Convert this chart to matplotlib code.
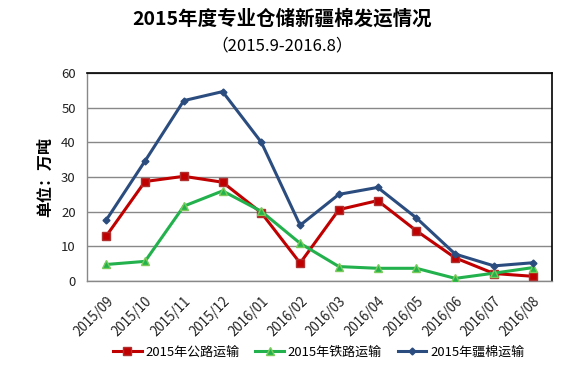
import matplotlib
matplotlib.use("Agg")
import matplotlib.pyplot as plt

plt.rcParams['font.family'] = ['Noto Sans CJK SC', 'DejaVu Sans']

months = ['2015/09', '2015/10', '2015/11', '2015/12', '2016/01', '2016/02',
          '2016/03', '2016/04', '2016/05', '2016/06', '2016/07', '2016/08']
road = [13.0, 28.7, 30.2, 28.5, 19.7, 5.2, 20.6, 23.2, 14.5, 6.7, 2.2, 1.4]
rail = [4.8, 5.7, 21.6, 26.0, 20.1, 10.9, 4.2, 3.7, 3.7, 0.8, 2.3, 3.9]
total = [17.6, 34.6, 52.0, 54.6, 40.0, 16.1, 25.0, 27.0, 18.2, 7.8, 4.4, 5.3]
series_names = ['2015年公路运输', '2015年铁路运输', '2015年疆棉运输']

fig = plt.figure(figsize=(5.64, 3.68), dpi=100)
ax = fig.add_axes([0.154, 0.236, 0.825, 0.566])

x = list(range(len(months)))
ax.plot(x, road, color='#C00000', lw=2.2, marker='s', ms=6,
        mfc='#C00000', mec='#B03030', label=series_names[0], zorder=3)
ax.plot(x, rail, color='#22B14C', lw=2.2, marker='^', ms=5.5,
        mfc='#22B14C', mec='#7ACB5A', label=series_names[1], zorder=3)
ax.plot(x, total, color='#2B4C7E', lw=2.2, marker='D', ms=3.5,
        mfc='#2B4C7E', mec='#2B4C7E', label=series_names[2], zorder=3)

ax.set_xlim(-0.5, len(months) - 0.5)
ax.set_ylim(0, 60)
ax.set_yticks(range(0, 61, 10))
ax.yaxis.grid(True, color='#888888', lw=1)
ax.set_axisbelow(True)
ax.tick_params(axis='both', length=0, colors='#222222')
ax.tick_params(axis='y', pad=8, labelsize=9.5)
ax.tick_params(axis='x', pad=9, labelsize=9.6)
ax.set_xticks(x)
ax.set_xticklabels(months, rotation=45, ha='right', rotation_mode='anchor')

for s in ['top', 'right']:
    ax.spines[s].set_color('black')
    ax.spines[s].set_linewidth(1.2)
for s in ['left', 'bottom']:
    ax.spines[s].set_color('#888888')
    ax.spines[s].set_linewidth(1)

ax.set_ylabel('单位：万吨', fontsize=11.5, fontweight='bold', labelpad=6)

fig.text(0.5, 0.948, '2015年度专业仓储新疆棉发运情况', ha='center', va='center',
         fontsize=14, fontweight='bold')
fig.text(0.5, 0.875, '（2015.9-2016.8）', ha='center', va='center', fontsize=12)

fig.legend(loc='center', bbox_to_anchor=(0.565, 0.042), ncol=3, frameon=False,
           fontsize=9.4, handlelength=2.2, columnspacing=1.2, handletextpad=0.3)

fig.savefig('out.png', dpi=100)
